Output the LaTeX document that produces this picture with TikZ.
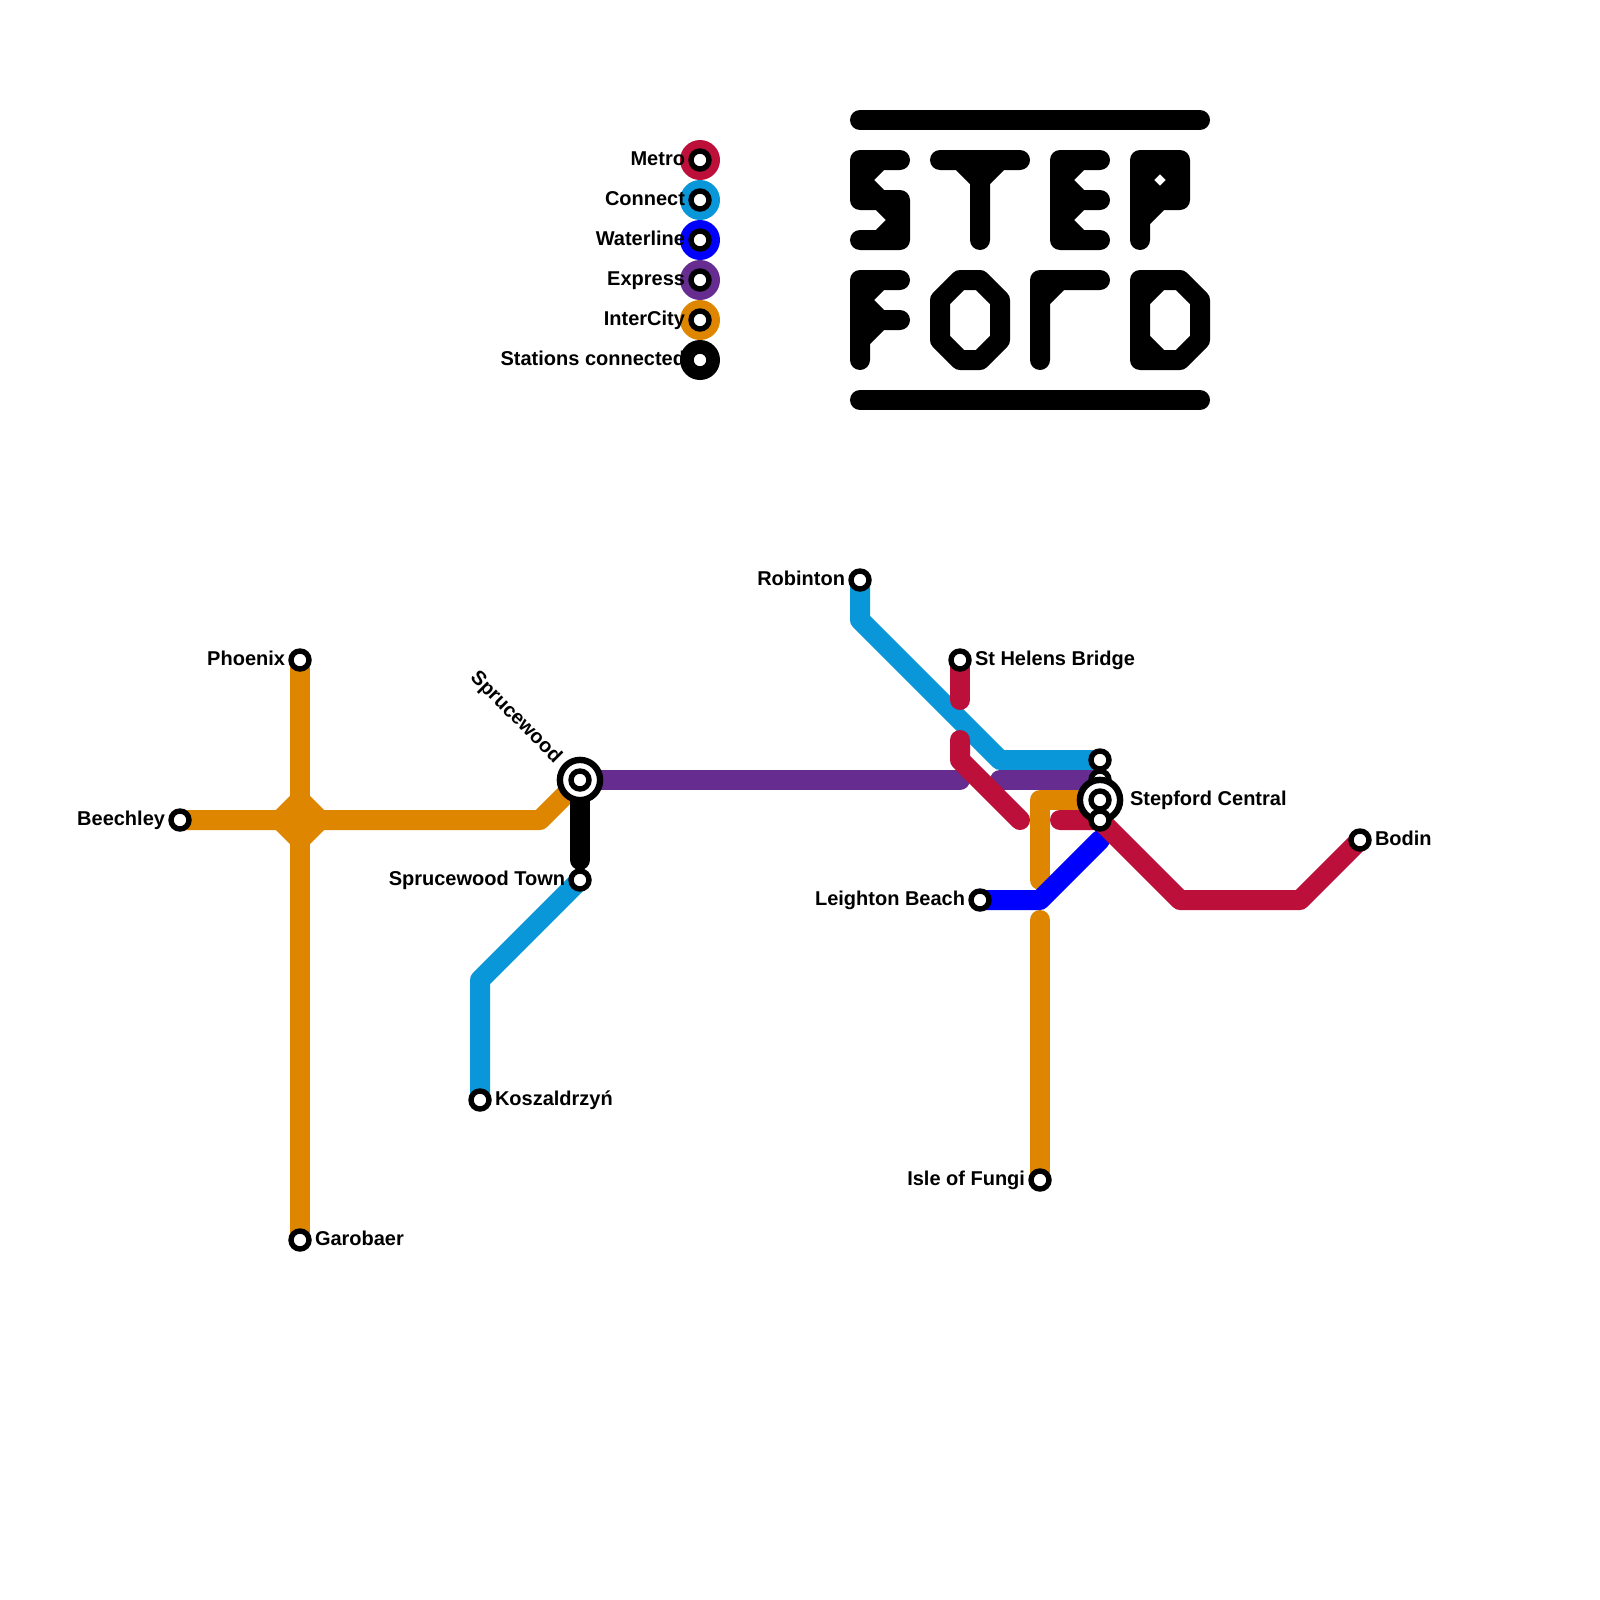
\documentclass[tikz,border=0pt]{standalone}
\usepackage{fontspec}
\setmainfont{Liberation Sans}
\usetikzlibrary{backgrounds}

\definecolor{metrored}{HTML}{BC0F3A}
\definecolor{connectblue}{HTML}{0A97D9}
\definecolor{waterblue}{HTML}{0000FF}
\definecolor{expresspurple}{HTML}{662C90}
\definecolor{intercityorange}{HTML}{DF8600}

\tikzset{
    route/.style={line width=14.22pt, line cap=round, line join=round},
    logo/.style={route, black},
    station/.style={circle, draw=black, fill=white, line width=3.84pt, minimum size=0.45cm, inner sep=0pt, outer sep=0pt},
    interchange/.style={station, line width=4.55pt, minimum size=1.005cm},
    disc/.style={circle, minimum size=1cm, inner sep=0pt, outer sep=0pt},
    lbl/.style={inner sep=0pt, outer sep=0pt, yshift=-1.6pt, font=\fontsize{14.22pt}{16pt}\selectfont\bfseries, text height=0.72em, text depth=0.21em}
}

\begin{document}
\begin{tikzpicture}[x=0.5cm, y=-0.5cm]

    \useasboundingbox (0, 0) rectangle (80, 80);

    % Title lettering, one draw per letter
    \draw[logo] (43, 6) -- (60, 6);
    \draw[logo] (43, 20) -- (60, 20);
    \draw[logo] (45, 8) -- (43, 8) -- (43, 10) -- (45, 10) -- (45, 12) -- (43, 12) (44, 8) -- (43, 9) -- (44, 10) -- (45, 11) -- (44, 12);
    \draw[logo] (47, 8) -- (51, 8) (49, 8) -- (49, 12) (48, 8) -- (49, 9) -- (50, 8);
    \draw[logo] (55, 8) -- (53, 8) -- (53, 12) -- (55, 12) (53, 10) -- (55, 10) (54, 8) -- (53, 9) -- (54, 10) -- (53, 11) -- (54, 12);
    \draw[logo] (57, 12) -- (57, 8) -- (59, 8) -- (59, 10) -- (57, 10) (57, 9) -- (58, 8) -- (59, 9) -- (58, 10) -- cycle (57, 11) -- (58, 10);
    \draw[logo] (45, 14) -- (43, 14) -- (43, 18) (43, 16) -- (45, 16) (44, 14) -- (43, 15) -- (44, 16) -- (43, 17);
    \draw[logo] (48, 14) -- (49, 14) -- (50, 15) -- (50, 17) -- (49, 18) -- (48, 18) -- (47, 17) -- (47, 15) -- cycle;
    \draw[logo] (55, 14) -- (52, 14) -- (52, 18) (52, 15) -- (53, 14);
    \draw[logo] (57, 14) -- (59, 14) -- (60, 15) -- (60, 17) -- (59, 18) -- (57, 18) -- cycle (57, 15) -- (58, 14) (57, 17) -- (58, 18);

    % Legend
    \foreach \y/\col/\txt in {8/metrored/Metro, 10/connectblue/Connect, 12/waterblue/Waterline, 14/expresspurple/Express, 16/intercityorange/InterCity, 18/black/Stations connected} {
        \node[disc, fill=\col] (legenddisc\y) at (35, \y) {};
        \node[station] (legendstation\y) at (35, \y) {};
        \node[lbl, anchor=east] (legendlabel\y) at (34.25, \y) {\txt};
    }

    % Stations, the lower ones of the central group first
    \foreach \name/\x/\y in {phoenix/15/33, garobaer/15/62, beechley/9/41, koszaldrzyn/24/55, town/29/44, robinton/43/29, sthelens/48/33, leighton/49/45, fungi/52/59, bodin/68/42} {
        \node[station] (\name) at (\x, \y) {};
    }
    \node[interchange] (sprucewoodring) at (29, 39) {};
    \node[station] (sprucewood) at (29, 39) {};
    \node[station] (centralmid) at (55, 39) {};
    \node[interchange] (centralring) at (55, 40) {};
    \node[station] (central) at (55, 40) {};
    \node[station] (centralnorth) at (55, 38) {};
    \node[station] (centralsouth) at (55, 41) {};

    % Bends and free line ends
    \foreach \name/\x/\y in {beechleybend/27/41, blackend/29/43, robintonbend/43/31, connectbend/50/38, townbend/24/49, helensend/48/35, redstart/48/37, redbend/48/38, redend/51/41, redrestart/53/41, bodinbendA/59/45, bodinbendB/65/45, purpleend/48/39, purplerestart/50/39, orangebend/52/40, orangeend/52/44, orangerestart/52/46, waterbend/52/45, waterend/55/42} {
        \coordinate (\name) at (\x, \y);
    }

    \begin{scope}[on background layer]
        % InterCity
        \draw[route, intercityorange] (phoenix.center) -- (garobaer.center);
        \draw[route, intercityorange] (beechley.center) -- (beechleybend) -- (sprucewood.center);
        \draw[route, intercityorange, fill=intercityorange] (14, 41) -- (15, 40) -- (16, 41) -- (15, 42) -- cycle;
        \draw[route, intercityorange] (central.center) -- (orangebend) -- (orangeend);
        \draw[route, intercityorange] (orangerestart) -- (fungi.center);

        % Connect
        \draw[route, connectblue] (robinton.center) -- (robintonbend) -- (connectbend) -- (centralnorth.center);
        \draw[route, connectblue] (town.center) -- (townbend) -- (koszaldrzyn.center);

        % Express
        \draw[route, expresspurple] (sprucewood.center) -- (purpleend);
        \draw[route, expresspurple] (purplerestart) -- (centralmid.center);

        % Black link
        \draw[route, black] (sprucewood.center) -- (blackend);

        % Waterline
        \draw[route, waterblue] (leighton.center) -- (waterbend) -- (waterend);

        % Metro
        \draw[route, metrored] (sthelens.center) -- (helensend);
        \draw[route, metrored] (redstart) -- (redbend) -- (redend);
        \draw[route, metrored] (redrestart) -- (centralsouth.center) -- (bodinbendA) -- (bodinbendB) -- (bodin.center);
    \end{scope}

    % Station labels
    \node[lbl, left=0.375cm] (phoenixlabel) at (phoenix) {Phoenix};
    \node[lbl, right=0.375cm] (garobaerlabel) at (garobaer) {Garobaer};
    \node[lbl, left=0.375cm] (beechleylabel) at (beechley) {Beechley};
    \node[lbl, right=0.375cm] (koszaldrzynlabel) at (koszaldrzyn) {Koszaldrzyń};
    \node[lbl, left=0.375cm] (townlabel) at (town) {Sprucewood Town};
    \node[lbl, left=0.375cm] (robintonlabel) at (robinton) {Robinton};
    \node[lbl, right=0.375cm] (sthelenslabel) at (sthelens) {St Helens Bridge};
    \node[lbl, left=0.375cm] (leightonlabel) at (leighton) {Leighton Beach};
    \node[lbl, left=0.375cm] (fungilabel) at (fungi) {Isle of Fungi};
    \node[lbl, right=0.375cm] (bodinlabel) at (bodin) {Bodin};
    \node[lbl, right=0.75cm] (centrallabel) at (central) {Stepford Central};
    \node[inner sep=0pt, outer sep=0pt, font=\fontsize{14.22pt}{16pt}\selectfont\bfseries, anchor=east, rotate=-45] (sprucewoodlabel) at (27.9, 38) {Sprucewood};

\end{tikzpicture}
\end{document}
